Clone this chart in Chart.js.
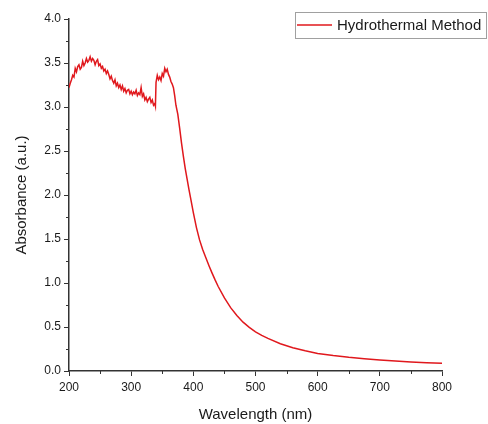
<!DOCTYPE html>
<html>
<head>
<meta charset="utf-8">
<title>Absorbance spectrum</title>
<script src="https://cdn.jsdelivr.net/npm/chart.js@4"></script>
<style>
  html, body { margin: 0; padding: 0; background: #fff; }
  #wrap { width: 488px; height: 424px; }
</style>
</head>
<body>
<div id="wrap"><canvas id="absChart" width="488" height="424"></canvas></div>
<script>
// wavelength (nm) and absorbance
const wavelengths = [
    200, 202, 204, 206, 208, 210, 212, 214, 216, 218,
    220, 222, 224, 226, 228, 230, 232, 234, 236, 238,
    240, 242, 244, 246, 248, 250, 252, 254, 256, 258,
    260, 262, 264, 266, 268, 270, 272, 274, 276, 278,
    280, 282, 284, 286, 288, 290, 292, 294, 296, 298,
    300, 302, 304, 306, 308, 310, 312, 314, 316, 318,
    320, 322, 324, 326, 328, 330, 332, 334, 336, 338,
    339, 340, 342, 344, 346, 348, 350, 352, 354, 356,
    358, 360, 362, 364, 366, 368, 370, 372, 375, 378,
    381, 384, 387, 390, 393, 396, 400, 405, 410, 415,
    420, 425, 430, 435, 440, 450, 460, 470, 480, 490,
    500, 510, 520, 540, 560, 580, 600, 625, 650, 675,
    700, 725, 750, 775, 800
];
const absorbance = [
    3.22, 3.27, 3.31, 3.36, 3.34, 3.44, 3.40, 3.46, 3.48, 3.43,
    3.45, 3.52, 3.47, 3.50, 3.55, 3.51, 3.53, 3.57, 3.52, 3.55,
    3.53, 3.48, 3.52, 3.54, 3.47, 3.49, 3.44, 3.46, 3.41, 3.43,
    3.38, 3.41, 3.37, 3.32, 3.35, 3.30, 3.27, 3.31, 3.24, 3.27,
    3.22, 3.25, 3.20, 3.24, 3.18, 3.21, 3.16, 3.19, 3.20, 3.15,
    3.18, 3.14, 3.17, 3.15, 3.19, 3.13, 3.16, 3.14, 3.22, 3.12,
    3.15, 3.08, 3.11, 3.06, 3.09, 3.11, 3.05, 3.08, 3.02, 3.04,
    3.01, 3.28, 3.36, 3.31, 3.34, 3.30, 3.38, 3.35, 3.44, 3.40,
    3.43, 3.37, 3.34, 3.29, 3.26, 3.22, 3.13, 3.02, 2.92, 2.76,
    2.59, 2.44, 2.30, 2.18, 2.06, 1.95, 1.80, 1.63, 1.49, 1.38,
    1.29, 1.20, 1.115, 1.035, 0.96, 0.83, 0.72, 0.63, 0.555, 0.495,
    0.445, 0.405, 0.37, 0.31, 0.265, 0.23, 0.20, 0.175, 0.155, 0.14,
    0.125, 0.113, 0.103, 0.095, 0.088
];
const seriesLabel = "Hydrothermal Method";
const xTicks = [200, 300, 400, 500, 600, 700, 800];
const yTicks = [0.0, 0.5, 1.0, 1.5, 2.0, 2.5, 3.0, 3.5, 4.0];

const axisColor = "#333";
const textColor = "#1a1a1a";
const fontFamily = "'Liberation Sans', Arial, sans-serif";

// short minor ticks between the labelled ones
const minorTicks = {
    id: "minorTicks",
    afterDraw(chart) {
        const ctx = chart.ctx;
        const xs = chart.scales.x;
        const ys = chart.scales.y;
        ctx.save();
        ctx.strokeStyle = axisColor;
        ctx.lineWidth = 1;
        ctx.beginPath();
        for (let i = 0; i < xTicks.length - 1; i++) {
            const px = Math.round(xs.getPixelForValue((xTicks[i] + xTicks[i + 1]) / 2)) + 0.5;
            ctx.moveTo(px, xs.top);
            ctx.lineTo(px, xs.top + 3);
        }
        for (let i = 0; i < yTicks.length - 1; i++) {
            const py = Math.round(ys.getPixelForValue((yTicks[i] + yTicks[i + 1]) / 2)) + 0.5;
            ctx.moveTo(ys.right, py);
            ctx.lineTo(ys.right - 3, py);
        }
        ctx.stroke();
        ctx.restore();
    }
};

// boxed legend in the top right corner
const boxLegend = {
    id: "boxLegend",
    afterDraw(chart) {
        const ctx = chart.ctx;
        const ds = chart.data.datasets[0];
        ctx.save();
        ctx.strokeStyle = "#a0a0a0";
        ctx.lineWidth = 1;
        ctx.strokeRect(295.5, 12.5, 191, 26);
        ctx.strokeStyle = ds.borderColor;
        ctx.lineWidth = 1.6;
        ctx.beginPath();
        ctx.moveTo(297, 25);
        ctx.lineTo(332, 25);
        ctx.stroke();
        ctx.fillStyle = textColor;
        ctx.font = "15px " + fontFamily;
        ctx.textBaseline = "middle";
        ctx.fillText(ds.label, 337, 25.5);
        ctx.restore();
    }
};

const ctx = document.getElementById("absChart").getContext("2d");
new Chart(ctx, {
    type: "line",
    data: {
        datasets: [{
            label: seriesLabel,
            data: wavelengths.map((w, i) => ({ x: w, y: absorbance[i] })),
            borderColor: "#e0181d",
            backgroundColor: "transparent",
            borderWidth: 1.5,
            pointRadius: 0,
            tension: 0,
        }]
    },
    options: {
        responsive: false,
        animation: false,
        layout: { padding: { top: 19, right: 46, left: 0, bottom: 0 } },
        plugins: {
            legend: { display: false },
            tooltip: { enabled: false },
        },
        scales: {
            x: {
                type: "linear",
                min: 200,
                max: 800,
                afterBuildTicks: (scale) => { scale.ticks = xTicks.map(v => ({ value: v })); },
                afterFit: (scale) => { scale.height = 53; },
                ticks: {
                    color: textColor,
                    font: { family: fontFamily, size: 12 },
                    padding: 4,
                    maxRotation: 0,
                },
                grid: { drawOnChartArea: false, tickLength: 5, tickColor: axisColor, tickWidth: 1 },
                border: { color: axisColor, width: 1.5 },
                title: {
                    display: true,
                    text: "Wavelength (nm)",
                    color: textColor,
                    font: { family: fontFamily, size: 15 },
                    padding: { top: 0, bottom: 0 },
                },
            },
            y: {
                type: "linear",
                min: 0,
                max: 4,
                afterBuildTicks: (scale) => { scale.ticks = yTicks.map(v => ({ value: v })); },
                afterFit: (scale) => { scale.width = 69; },
                ticks: {
                    color: textColor,
                    font: { family: fontFamily, size: 12 },
                    padding: 3,
                    callback: (v) => Number(v).toFixed(1),
                },
                grid: { drawOnChartArea: false, tickLength: 5, tickColor: axisColor, tickWidth: 1 },
                border: { color: axisColor, width: 1.5 },
                title: {
                    display: true,
                    text: "Absorbance (a.u.)",
                    color: textColor,
                    font: { family: fontFamily, size: 15 },
                    padding: { top: 13, bottom: 0 },
                },
            },
        },
    },
    plugins: [minorTicks, boxLegend],
});
</script>
</body>
</html>
